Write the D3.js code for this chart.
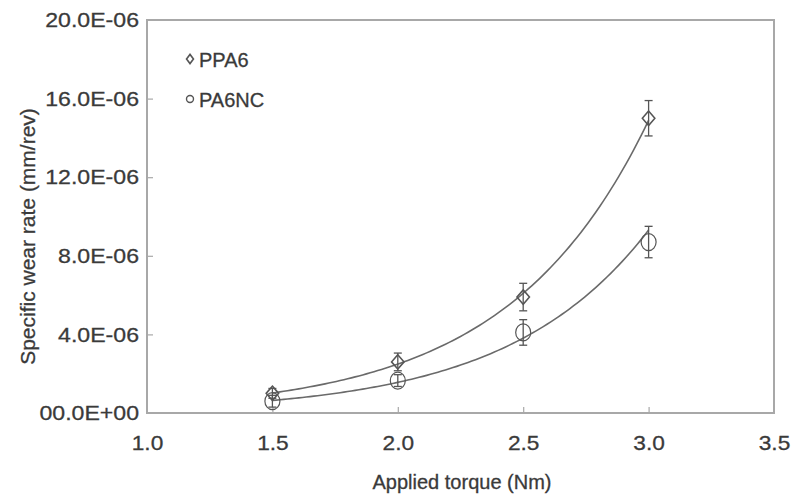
<!DOCTYPE html>
<html><head><meta charset="utf-8">
<script src="https://cdn.jsdelivr.net/npm/d3@7"></script>
<style>body{margin:0;background:#fff}svg{display:block}text{font-family:"Liberation Sans",Arial,sans-serif;fill:#3a3a3a;stroke:#3a3a3a;stroke-width:0.3px}</style>
</head><body><svg id="c" width="794" height="499"></svg>
<script>
const torque = [1.5, 2.0, 2.5, 3.0];
const ppa6 = [1.0e-6, 2.6e-6, 5.9e-6, 15.0e-6];
const ppa6Err = [0.25e-6, 0.45e-6, 0.7e-6, 0.9e-6];
const pa6nc = [0.6e-6, 1.65e-6, 4.1e-6, 8.7e-6];
const pa6ncErr = [0.3e-6, 0.3e-6, 0.65e-6, 0.8e-6];
const xTicks = [1.0, 1.5, 2.0, 2.5, 3.0, 3.5];
const yTicks = [0, 4e-6, 8e-6, 12e-6, 16e-6, 20e-6];
const yTickLabels = ["00.0E+00", "4.0E-06", "8.0E-06", "12.0E-06", "16.0E-06", "20.0E-06"];
const seriesNames = ["PPA6", "PA6NC"];

const svg = d3.select("#c");
const m = {l:147, r:774, t:20, b:413};
const x = d3.scaleLinear().domain([1.0, 3.5]).range([m.l, m.r]);
const y = d3.scaleLinear().domain([0, 20e-6]).range([m.b, m.t]);
const axisCol = "#a8a8a8", lineCol = "#6a6a6a", markCol = "#555";

// axes
const xa = svg.append("g").attr("transform", `translate(0,${m.b})`)
  .call(d3.axisBottom(x).tickValues(xTicks).tickSize(-6).tickPadding(22).tickFormat(d3.format(".1f")));
const ya = svg.append("g").attr("transform", `translate(${m.l},0)`)
  .call(d3.axisLeft(y).tickValues(yTicks).tickSize(-6).tickPadding(8).tickFormat((d,i)=>yTickLabels[i]));
[xa, ya].forEach(a => {
  a.select(".domain").remove();
  a.selectAll(".tick line").attr("stroke", axisCol).attr("stroke-width", 1.2);
  a.selectAll(".tick text").style("font-size", "21px").attr("fill", "#3a3a3a");
});
xa.selectAll(".tick line").filter(d => d === 1.0 || d === 3.5).remove();
ya.selectAll(".tick line").filter(d => d === 0 || d === 20e-6).remove();
// widen glyphs slightly like the reference
ya.selectAll(".tick text").each(function() {
  const w = this.getComputedTextLength();
  d3.select(this).attr("textLength", w * 1.1).attr("lengthAdjust", "spacingAndGlyphs");
});
xa.selectAll(".tick text").each(function() {
  const w = this.getComputedTextLength();
  d3.select(this).attr("textLength", w * 1.08).attr("lengthAdjust", "spacingAndGlyphs");
});

// frame
svg.append("rect").attr("x", m.l).attr("y", m.t).attr("width", m.r - m.l).attr("height", m.b - m.t)
  .attr("fill", "none").attr("stroke", axisCol).attr("stroke-width", 2);

// labels
svg.append("text").attr("x", 462).attr("y", 489).attr("text-anchor", "middle")
  .style("font-size", "20px").text("Applied torque (Nm)");
svg.append("text").attr("transform", `translate(35,${(m.t + m.b) / 2 + 20}) rotate(-90)`).attr("text-anchor", "middle")
  .style("font-size", "21px").text("Specific wear rate (mm/rev)");

// exponential fits (least squares in log space) drawn from data
function expFit(xs, ys) {
  const ly = ys.map(Math.log);
  const mx = d3.mean(xs), my = d3.mean(ly);
  const b = d3.sum(xs.map((v,i)=>(v-mx)*(ly[i]-my))) / d3.sum(xs.map(v=>(v-mx)**2));
  const a = my - b*mx;
  return t => Math.exp(a + b*t);
}
const line = d3.line().x(d=>x(d[0])).y(d=>y(d[1]));
[ppa6, pa6nc].forEach(vals => {
  const f = expFit(torque, vals);
  const pts = d3.range(0, 101).map(i => { const t = 1.5 + 1.5*i/100; return [t, f(t)]; });
  svg.append("path").datum(pts).attr("d", line).attr("fill", "none").attr("stroke", lineCol).attr("stroke-width", 1.6);
});

// error bars
function errBars(vals, errs) {
  const g = svg.append("g").attr("stroke", markCol).attr("stroke-width", 1.3);
  torque.forEach((t,i) => {
    const cx = x(t), y1 = y(vals[i] + errs[i]), y2 = y(vals[i] - errs[i]);
    g.append("line").attr("x1", cx).attr("x2", cx).attr("y1", y1).attr("y2", y2);
    g.append("line").attr("x1", cx-4).attr("x2", cx+4).attr("y1", y1).attr("y2", y1);
    g.append("line").attr("x1", cx-4).attr("x2", cx+4).attr("y1", y2).attr("y2", y2);
  });
}
errBars(ppa6, ppa6Err);
errBars(pa6nc, pa6ncErr);

// markers
const diamond = d3.symbol().type(d3.symbolDiamond).size(60);
svg.append("g").selectAll("path").data(ppa6).join("path")
  .attr("d", diamond).attr("transform", (d,i)=>`translate(${x(torque[i])},${y(d)}) scale(1.5,1)`)
  .attr("fill", "none").attr("stroke", markCol).attr("stroke-width", 1.2);
svg.append("g").selectAll("ellipse").data(pa6nc).join("ellipse")
  .attr("cx", (d,i)=>x(torque[i])).attr("cy", d=>y(d)).attr("rx", 7.5).attr("ry", 8.5)
  .attr("fill", "none").attr("stroke", markCol).attr("stroke-width", 1.2);

// legend
const lg = svg.append("g");
lg.append("path").attr("d", d3.symbol().type(d3.symbolDiamond).size(24)).attr("transform", "translate(190,59) scale(1.3,1)")
  .attr("fill", "none").attr("stroke", markCol).attr("stroke-width", 1.4);
lg.append("circle").attr("cx", 190).attr("cy", 99).attr("r", 3.5).attr("fill", "none").attr("stroke", markCol).attr("stroke-width", 1.4);
lg.append("text").attr("x", 199).attr("y", 67).style("font-size", "20px").text(seriesNames[0]);
lg.append("text").attr("x", 199).attr("y", 107).style("font-size", "20px").text(seriesNames[1]);
</script></body></html>
